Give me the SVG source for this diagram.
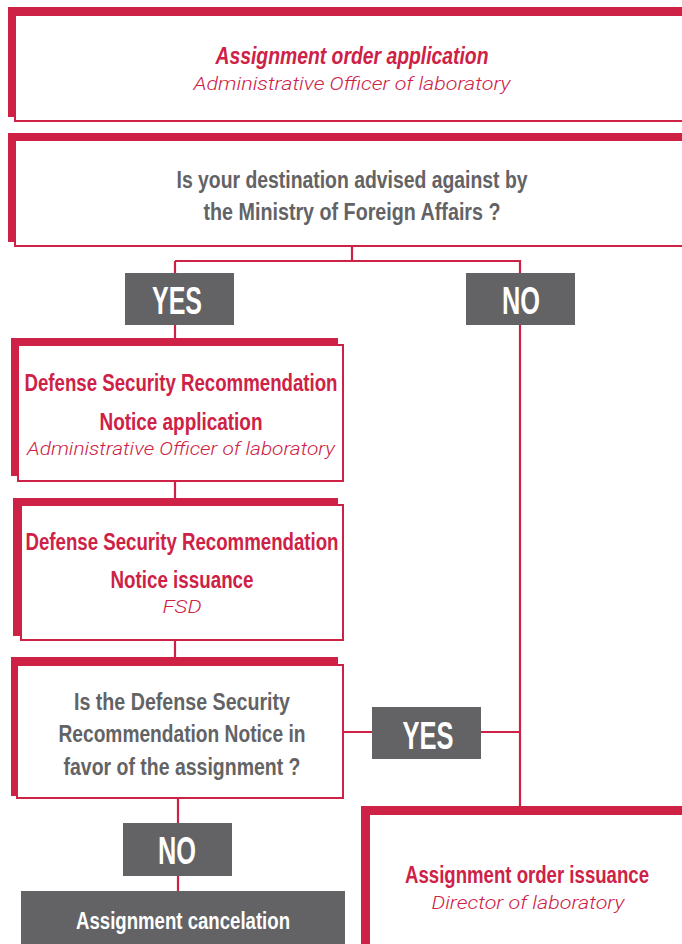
<svg xmlns="http://www.w3.org/2000/svg" width="682" height="944" viewBox="0 0 682 944">
<style>
.red{fill:#CE2146}
.box{fill:#fff;stroke:#CE2146;stroke-width:2}
.tag{fill:#636365}
.ln{fill:none;stroke:#CE2146;stroke-width:2.2}
.t{font-family:'Liberation Sans Narrow','Liberation Sans',Arial,sans-serif;font-weight:bold;text-anchor:middle}
.tr{fill:#CE2146;font-size:23px}
.tg{fill:#636365;font-size:23px}
.tw{fill:#fff}
.s{font-family:Roboto,'Liberation Sans',Arial,sans-serif;font-weight:300;font-style:italic;fill:#CE2146;font-size:19px;text-anchor:middle}
</style>
<g id="connectors">
<path class="ln" d="M352,247V261M175,261H520V273M175,261V273"/>
<path class="ln" d="M175,325V345"/>
<path class="ln" d="M520,325V807"/>
<path class="ln" d="M175,481V505"/>
<path class="ln" d="M175,640V665"/>
<path class="ln" d="M343,732H372M480,732H520"/>
<path class="ln" d="M178,798V823M178,876V891"/>
</g>
<g id="n1">
<rect class="red" x="8" y="7" width="676" height="110"/>
<rect class="box" x="15" y="15" width="670" height="106"/>
<text class="t tr" x="352" y="64" font-style="italic" textLength="273" lengthAdjust="spacingAndGlyphs">Assignment order application</text>
<text class="s" x="352" y="90" textLength="317" lengthAdjust="spacingAndGlyphs">Administrative Officer of laboratory</text>
</g>
<g id="n2">
<rect class="red" x="8" y="133" width="676" height="109"/>
<rect class="box" x="15" y="140" width="670" height="106"/>
<text class="t tg" x="352" y="188" textLength="351" lengthAdjust="spacingAndGlyphs">Is your destination advised against by</text>
<text class="t tg" x="352" y="220" textLength="297" lengthAdjust="spacingAndGlyphs">the Ministry of Foreign Affairs ?</text>
</g>
<g id="yes1">
<rect class="tag" x="125" y="273" width="109" height="52"/>
<text class="t tw" x="177" y="314" font-size="38" textLength="50" lengthAdjust="spacingAndGlyphs">YES</text>
</g>
<g id="no1">
<rect class="tag" x="466" y="273" width="109" height="52"/>
<text class="t tw" x="521" y="314" font-size="38" textLength="38" lengthAdjust="spacingAndGlyphs">NO</text>
</g>
<g id="n3">
<rect class="red" x="11" y="338" width="327" height="138"/>
<rect class="box" x="18" y="345" width="325" height="136"/>
<text class="t tr" x="181" y="391" textLength="313" lengthAdjust="spacingAndGlyphs">Defense Security Recommendation</text>
<text class="t tr" x="181" y="430" textLength="163" lengthAdjust="spacingAndGlyphs">Notice application</text>
<text class="s" x="181" y="455" textLength="308" lengthAdjust="spacingAndGlyphs">Administrative Officer of laboratory</text>
</g>
<g id="n4">
<rect class="red" x="13" y="498" width="325" height="138"/>
<rect class="box" x="21" y="505" width="322" height="135"/>
<text class="t tr" x="182" y="550" textLength="313" lengthAdjust="spacingAndGlyphs">Defense Security Recommendation</text>
<text class="t tr" x="182" y="588" textLength="143" lengthAdjust="spacingAndGlyphs">Notice issuance</text>
<text class="s" x="182" y="613" textLength="39" lengthAdjust="spacingAndGlyphs">FSD</text>
</g>
<g id="n5">
<rect class="red" x="11" y="657" width="327" height="139"/>
<rect class="box" x="17" y="665" width="326" height="133"/>
<text class="t tg" x="182" y="710" textLength="216" lengthAdjust="spacingAndGlyphs">Is the Defense Security</text>
<text class="t tg" x="182" y="742" textLength="247" lengthAdjust="spacingAndGlyphs">Recommendation Notice in</text>
<text class="t tg" x="182" y="775" textLength="237" lengthAdjust="spacingAndGlyphs">favor of the assignment ?</text>
</g>
<g id="yes2">
<rect class="tag" x="372" y="707" width="109" height="52"/>
<text class="t tw" x="428" y="749" font-size="38" textLength="51" lengthAdjust="spacingAndGlyphs">YES</text>
</g>
<g id="no2">
<rect class="tag" x="123" y="823" width="109" height="53"/>
<text class="t tw" x="177" y="864" font-size="38" textLength="38" lengthAdjust="spacingAndGlyphs">NO</text>
</g>
<g id="cancel">
<rect class="tag" x="21" y="891" width="324" height="53"/>
<text class="t tw" x="183" y="929" font-size="23" textLength="214" lengthAdjust="spacingAndGlyphs">Assignment cancelation</text>
</g>
<g id="n6">
<rect class="red" x="361" y="806" width="323" height="140"/>
<rect class="box" x="369" y="814" width="316" height="132"/>
<text class="t tr" x="527" y="883" textLength="244" lengthAdjust="spacingAndGlyphs">Assignment order issuance</text>
<text class="s" x="528" y="909" textLength="193" lengthAdjust="spacingAndGlyphs">Director of laboratory</text>
</g>
</svg>
